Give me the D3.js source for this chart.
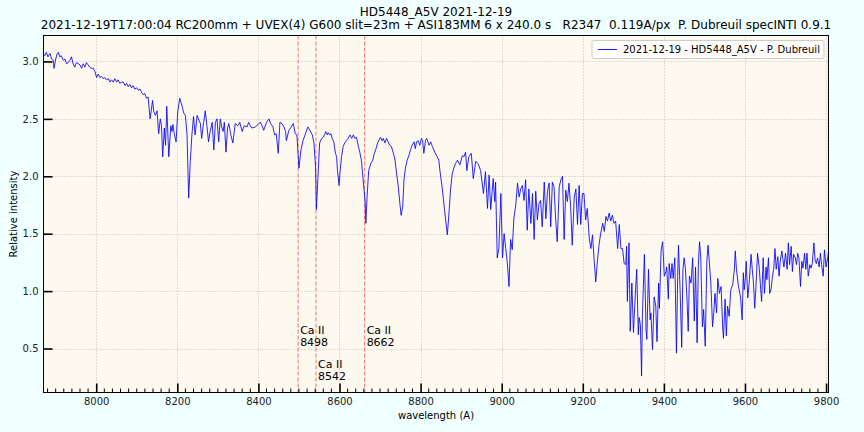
<!DOCTYPE html>
<html>
<head>
<meta charset="utf-8">
<script src="https://cdn.jsdelivr.net/npm/d3@7"></script>
<style>
  html, body { margin: 0; padding: 0; background: #f0ffff; }
  svg { display: block; font-family: "DejaVu Sans", sans-serif; }
</style>
</head>
<body>
<script>
// ---------------- DATA ----------------
const wavelength = [
7869,7873,7877,7881,7886,7890,7894,7896,7900,7904,7907,7910,7914,7919,7923,7927,7931,7935,7939,7943,
7947,7951,7956,7960,7964,7968,7972,7976,7980,7984,7988,7993,7997,8001,8005,8009,8013,8017,8021,8025,
8030,8034,8038,8042,8046,8050,8054,8058,8063,8067,8071,8075,8079,8083,8087,8091,8095,8100,8104,8108,
8112,8116,8120,8124,8128,
8133,8139,8142,8146,8150,8154,8158,8161,8164,8168,8171,8174,8179,8184,8187,8189,8193,8197,8201,8206,
8211,8216,8220,8224,8228,8232,8236,8240,8244,8249,8253,8257,8260,8265,8269,8273,8277,8281,8286,8290,
8294,8298,8302,8306,8310,8313,8316,8320,8324,8327,8332,8337,8343,8349,8354,
8360,8365,8372,8376,8380,8384,8393,8401,8405,8409,8413,8420,8426,8430,8436,8440,8444,8449,8453,8458,
8463,8467,8469,8475,8481,8486,8491,8495,8500,8505,8510,8516,8522,8527,8533,8537,8541,8543,
8547,8551,8556,8560,8564,8566,8570,8572,8576,8579,8582,8586,8590,8593,8595,8599,8601,8605,8609,8613,
8617,8621,8626,8630,8634,8638,8642,8646,8650,8654,8658,8663,8665,8668,8672,8677,8682,8686,8690,8694,
8697,8701,8705,8708,8712,8716,8720,8724,8728,8733,8737,8741,8745,8749,8752,8756,8759,8763,8767,8771,
8775,8779,8784,8787,8790,8794,8798,8802,8805,8808,8812,
8815,8821,8825,8829,8835,8841,8845,8848,8853,8859,8866,8870,8874,8878,8882,8886,8891,8897,8903,8907,
8911,8914,8919,8925,8930,8936,8942,
8948,8955,8960,8965,8969,8973,8979,8983,8985,8989,8993,8998,9002,9006,9010,9014,9018,9022,9026,9030,
9035,9039,9043,9047,9051,9055,9059,9063,9067,9072,9076,9080,9084,9088,9092,9096,9100,9105,9109,9113,
9117,9121,9125,9129,9133,9137,9142,9146,9150,9154,9158,9162,9166,9170,9174,9179,9183,9187,9191,9195,
9199,9203,9207,9211,9216,9220,9224,9228,9232,9236,9240,9244,9249,9253,9257,9261,9265,9269,9273,9277,
9281,9286,9290,9294,9298,9302,9306,
9308,9310,9314,9317,9321,9325,9329,9333,9337,9339,9342,9345,9347,9352,9356,9358,9362,9366,9368,9372,
9376,9380,9383,9387,9389,9393,9397,9401,9405,9407,9411,9413,9417,9420,9423,9427,9431,9434,9436,9440,
9444,9447,9450,9453,9457,9460,9463,9467,9471,9475,9478,9482,9485,9488,9491,9495,9498,9502,9506,9509,
9513,9516,9520,9523,9526,9530,9533,9537,9541,9545,9547,9551,9554,9557,9561,9565,9570,9574,9576,9579,
9584,9589,9593,9596,9598,9601,9603,9607,9611,9615,9618,9621,9624,9627,9631,9635,9638,9641,9645,9648,
9652,9654,9658,9661,9664,9668,9671,9674,9677,9681,9684,9687,9691,9693,9696,9700,9704,9707,9710,9714,
9717,9720,9724,9727,9730,9733,9737,9740,9743,9747,9750,9753,9756,9760,9763,9766,9770,9773,9776,9779,
9783,9786,9789,9793,9796,9800,9804,9808
];
const intensity = [
3.07,3.05,3.08,3.04,3.07,3.02,3.01,2.94,3.02,3.07,3.08,3.04,3.05,3.01,3.02,2.98,2.99,3.01,3.04,2.98,
2.95,2.99,2.98,2.97,2.94,2.98,2.95,2.99,2.97,2.95,2.94,2.94,2.91,2.86,2.89,2.86,2.87,2.85,2.86,2.84,
2.85,2.82,2.84,2.82,2.85,2.82,2.84,2.81,2.82,2.82,2.79,2.81,2.78,2.80,2.77,2.79,2.76,2.77,2.75,2.76,
2.73,2.71,2.72,2.68,2.69,
2.50,2.66,2.56,2.53,2.57,2.37,2.50,2.44,2.17,2.42,2.27,2.61,2.17,2.44,2.39,2.45,2.36,2.30,2.56,2.68,
2.62,2.55,2.53,2.36,1.81,2.13,2.36,2.52,2.36,2.53,2.49,2.46,2.33,2.47,2.57,2.44,2.30,2.39,2.47,2.23,
2.47,2.50,2.30,2.50,2.42,2.39,2.47,2.21,2.42,2.46,2.36,2.29,2.46,2.44,2.47,
2.39,2.44,2.43,2.47,2.44,2.42,2.43,2.46,2.47,2.44,2.40,2.47,2.50,2.46,2.43,2.36,2.37,2.20,2.47,2.46,
2.43,2.39,2.31,2.40,2.43,2.46,2.37,2.36,2.07,2.23,2.31,2.37,2.43,2.40,2.36,2.29,2.08,1.71,
2.00,2.29,2.33,2.34,2.37,2.39,2.36,2.38,2.36,2.37,2.33,2.30,2.20,2.17,2.05,1.92,2.02,2.17,2.26,2.29,
2.31,2.33,2.36,2.33,2.36,2.33,2.34,2.27,2.21,2.14,1.98,1.79,1.59,1.82,2.05,2.11,2.14,2.20,2.24,2.29,
2.31,2.34,2.31,2.33,2.29,2.33,2.30,2.27,2.26,2.20,2.14,2.02,1.91,1.76,1.66,1.74,1.97,2.08,2.14,2.18,
2.23,2.27,2.30,2.24,2.30,2.31,2.27,2.33,2.31,2.20,2.31,
2.33,2.27,2.30,2.26,2.21,2.17,2.14,2.04,1.91,1.71,1.49,1.68,1.89,2.02,2.07,2.11,2.14,2.10,2.18,2.17,
2.21,2.05,2.17,2.20,1.98,2.13,2.11,
2.05,1.85,2.04,1.72,2.01,1.71,1.98,1.78,1.95,1.29,1.37,1.85,1.29,1.50,1.37,1.24,1.04,1.45,1.36,1.63,
1.76,1.94,1.82,1.89,1.92,1.79,1.97,1.53,1.89,1.59,1.85,1.45,1.87,1.62,1.76,1.79,1.56,1.95,1.63,1.87,
1.94,1.56,1.95,1.91,1.63,1.43,1.91,1.97,2.00,1.45,1.88,1.78,1.94,1.74,1.40,1.82,1.89,1.58,1.92,1.58,
1.85,1.85,1.62,1.72,1.46,1.37,1.49,1.27,1.08,1.26,1.40,1.50,1.59,1.52,1.65,1.61,1.68,1.61,1.66,1.59,
1.61,1.37,1.58,1.37,1.37,1.24,1.23,
1.39,0.91,1.42,0.65,1.07,0.64,0.93,1.19,0.62,0.77,0.71,0.26,0.78,1.32,0.66,0.58,1.19,0.75,0.81,0.49,
0.95,0.87,0.56,1.07,0.85,1.35,1.43,1.13,1.17,1.21,0.93,1.24,1.11,1.24,1.11,1.29,0.46,1.13,1.40,1.01,
0.51,1.19,1.29,1.20,0.93,0.65,1.13,1.07,1.29,0.74,1.21,0.55,1.23,1.43,1.29,0.69,0.84,0.52,1.26,1.40,
1.21,1.06,0.69,0.81,0.98,0.81,1.11,0.98,1.04,0.69,0.59,0.93,0.61,0.87,0.78,1.01,1.06,1.20,1.35,1.19,
1.04,0.95,0.75,1.16,1.01,1.11,1.26,0.94,1.10,1.32,1.19,1.07,0.85,1.03,1.33,1.21,1.06,0.91,1.29,0.98,
1.21,1.10,1.29,0.98,1.01,1.13,1.20,1.37,1.19,1.30,1.13,1.26,1.35,1.29,1.21,1.33,1.19,1.42,1.23,1.39,
1.17,1.32,1.29,1.23,1.33,1.29,1.04,1.26,1.20,1.33,1.19,1.33,1.13,1.23,1.20,1.24,1.42,1.27,1.24,1.29,
1.21,1.33,1.23,1.13,1.36,1.21,1.29,1.40
];
const xTicks = [8000,8200,8400,8600,8800,9000,9200,9400,9600,9800];
const yTicks = [0.5,1.0,1.5,2.0,2.5,3.0];
const lineWavelengths = [8498,8542,8662];
const lineNames = ["Ca II","Ca II","Ca II"];
const lineLabelLevel = [0.5,0.2,0.5];
const xDomain = [7870, 9806];
const yDomain = [0.117, 3.226];
const titleText = "HD5448_A5V 2021-12-19";
const subtitleText = "2021-12-19T17:00:04 RC200mm + UVEX(4) G600 slit=23m + ASI183MM 6 x 240.0 s   R2347  0.119A/px  P. Dubreuil specINTI 0.9.1";
const legendText = "2021-12-19 - HD5448_A5V - P. Dubreuil";

// ---------------- CHART ----------------
const W = 864, H = 432;
const L = 43.5, R = 828.5, T = 35.5, B = 392.5;
const svg = d3.select("body").append("svg").attr("width", W).attr("height", H);

const x = d3.scaleLinear().domain(xDomain).range([L, R]);
const y = d3.scaleLinear().domain(yDomain).range([B, T]);

svg.append("defs").append("clipPath").attr("id", "clip")
  .append("rect").attr("x", L).attr("y", T).attr("width", R - L).attr("height", B - T);

svg.append("rect").attr("x", L).attr("y", T).attr("width", R - L).attr("height", B - T)
  .attr("fill", "#fdf9ee");

// grid
const grid = svg.append("g").attr("stroke", "#b0b0b0").attr("stroke-width", 0.8)
  .attr("stroke-dasharray", "1,2");
grid.selectAll(".gx").data(xTicks).join("line")
  .attr("x1", d => Math.round(x(d)) + 0.5).attr("x2", d => Math.round(x(d)) + 0.5)
  .attr("y1", T).attr("y2", B);
grid.selectAll(".gy").data(yTicks).join("line")
  .attr("y1", d => Math.round(y(d)) + 0.5).attr("y2", d => Math.round(y(d)) + 0.5)
  .attr("x1", L).attr("x2", R);

// Ca II lines
svg.append("g").selectAll("line").data(lineWavelengths).join("line")
  .attr("x1", d => x(d)).attr("x2", d => x(d)).attr("y1", T).attr("y2", B)
  .attr("stroke", "red").attr("stroke-opacity", 0.55).attr("stroke-width", 1)
  .attr("stroke-dasharray", "4,2");

// spectrum
const pts = wavelength.map((w, i) => [w, intensity[i]]);
svg.append("path").datum(pts)
  .attr("clip-path", "url(#clip)")
  .attr("fill", "none").attr("stroke", "blue").attr("stroke-width", 0.85)
  .attr("stroke-linejoin", "round")
  .attr("d", d3.line().x(d => x(d[0])).y(d => y(d[1])));

// line labels
const lab = svg.append("g").attr("font-size", 11).attr("fill", "#000");
lineWavelengths.forEach((w, i) => {
  const tx = x(w) + 2, by = y(lineLabelLevel[i]);
  lab.append("text").attr("x", tx).attr("y", by - 15).text(lineNames[i]);
  lab.append("text").attr("x", tx).attr("y", by - 3).text(String(w));
});

// axes
const xAxis = svg.append("g").attr("transform", `translate(0,${B})`)
  .call(d3.axisBottom(x).tickValues(xTicks).tickSize(-9).tickPadding(5).tickFormat(d3.format("d")));
xAxis.select(".domain").remove();
xAxis.selectAll(".tick line").attr("stroke", "#000").attr("stroke-width", 1.6);
xAxis.selectAll(".tick text").attr("font-size", 10).attr("fill", "#222").attr("font-family", "DejaVu Sans");

const minor = d3.range(7880, 9806, 20).filter(v => v % 200 !== 0);
svg.append("g").selectAll("line").data(minor).join("line")
  .attr("x1", d => x(d)).attr("x2", d => x(d)).attr("y1", B).attr("y2", B - 4)
  .attr("stroke", "#000").attr("stroke-width", 1);

const yAxis = svg.append("g").attr("transform", `translate(${L},0)`)
  .call(d3.axisLeft(y).tickValues(yTicks).tickSize(-9).tickPadding(5).tickFormat(d3.format(".1f")));
yAxis.select(".domain").remove();
yAxis.selectAll(".tick line").attr("stroke", "#000").attr("stroke-width", 1.6);
yAxis.selectAll(".tick text").attr("font-size", 10).attr("fill", "#222").attr("font-family", "DejaVu Sans");

// frame
svg.append("rect").attr("x", L).attr("y", T).attr("width", R - L).attr("height", B - T)
  .attr("fill", "none").attr("stroke", "#000").attr("stroke-width", 1);

// titles
svg.append("text").attr("x", (L + R) / 2).attr("y", 16).attr("text-anchor", "middle")
  .attr("font-size", 12).attr("fill", "#000").text(titleText);
svg.append("text").attr("x", (L + R) / 2).attr("y", 29).attr("text-anchor", "middle")
  .attr("font-size", 12).attr("fill", "#000").attr("xml:space", "preserve")
  .style("white-space", "pre").text(subtitleText);

svg.append("text").attr("x", (L + R) / 2).attr("y", 419).attr("text-anchor", "middle")
  .attr("font-size", 10).attr("fill", "#000").text("wavelength (A)");
svg.append("text").attr("transform", `translate(17,${(T + B) / 2}) rotate(-90)`)
  .attr("text-anchor", "middle").attr("font-size", 10).attr("fill", "#000").text("Relative intensity");

// legend
const lg = svg.append("g");
lg.append("rect").attr("x", 592).attr("y", 40.5).attr("width", 232).attr("height", 18).attr("rx", 2)
  .attr("fill", "#ffffff").attr("fill-opacity", 0.8).attr("stroke", "#cccccc").attr("stroke-width", 1);
lg.append("line").attr("x1", 598).attr("x2", 617).attr("y1", 49.5).attr("y2", 49.5)
  .attr("stroke", "blue").attr("stroke-width", 0.9);
lg.append("text").attr("x", 623).attr("y", 53).attr("font-size", 10).attr("fill", "#000").text(legendText);
</script>
</body>
</html>
